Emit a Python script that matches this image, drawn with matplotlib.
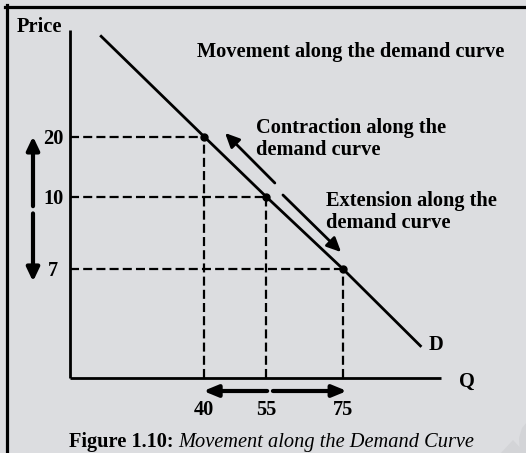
import numpy as np
import matplotlib
matplotlib.use("Agg")
import matplotlib.pyplot as plt
from matplotlib.patches import Polygon

# ---- data ----
quantity = [40, 55, 75]
price = [20, 10, 7]
q_labels = ["40", "55", "75"]
p_labels = ["20", "10", "7"]
demand_q = [9, 40, 55, 75, 95]
demand_p = [29.5, 20, 10, 7, 2]

# schematic (non-linear) axes as drawn in the figure
Q_KNOTS = [0, 40, 55, 75, 100]
Q_POS = [0, 134, 196, 273, 371]
P_KNOTS = [0, 7, 10, 20, 30]
P_POS = [0, 109, 181.5, 241.5, 348]

W, H = 526, 453
BG = "#dcdde0"
plt.rcParams["font.family"] = ["Liberation Serif", "DejaVu Serif"]
plt.rcParams["font.weight"] = "bold"
plt.rcParams["lines.scale_dashes"] = False

fig = plt.figure(figsize=(W / 100, H / 100), dpi=100)
fig.patch.set_facecolor(BG)


def fx(x):
    return x / W


def fy(y):
    return 1 - y / H


# faint watermark shapes in the lower right corner
fig.add_artist(Polygon([[fx(499), fy(455)], [fx(513), fy(440)], [fx(527), fy(455)]],
                       closed=True, facecolor="#d3d4d7", edgecolor="none",
                       transform=fig.transFigure))
fig.add_artist(Polygon([[fx(520), fy(455)], [fx(519), fy(438)], [fx(522), fy(428)],
                        [fx(527), fy(422)], [fx(527), fy(455)]],
                       closed=True, facecolor="#d3d4d7", edgecolor="none",
                       transform=fig.transFigure))

ax = fig.add_axes([fx(70), fy(378), (441 - 70) / W, (378 - 30) / H])
ax.set_facecolor("none")
ax.set_xscale("function", functions=(lambda v: np.interp(v, Q_KNOTS, Q_POS),
                                     lambda v: np.interp(v, Q_POS, Q_KNOTS)))
ax.set_yscale("function", functions=(lambda v: np.interp(v, P_KNOTS, P_POS),
                                     lambda v: np.interp(v, P_POS, P_KNOTS)))
ax.set_xlim(0, 100)
ax.set_ylim(0, 30)
for s in ["top", "right"]:
    ax.spines[s].set_visible(False)
for s in ["left", "bottom"]:
    ax.spines[s].set_linewidth(2.0)
    ax.spines[s].set_capstyle("butt")

fs = 14.7
ax.set_xticks(quantity)
ax.set_xticklabels(q_labels)
ax.set_yticks(price)
ax.set_yticklabels(p_labels)
ax.tick_params(axis="x", length=0, pad=15.5, labelsize=fs)
ax.tick_params(axis="y", length=0, pad=12, labelsize=fs)
for t in ax.get_yticklabels():
    t.set_horizontalalignment("center")
ax.xaxis.set_minor_locator(matplotlib.ticker.NullLocator())
ax.yaxis.set_minor_locator(matplotlib.ticker.NullLocator())

# dashed guides
dash = (0, (6.5, 3.0))
for q, p in zip(quantity, price):
    ax.plot([0, q], [p, p], color="black", lw=1.6, linestyle=dash, clip_on=False)
    ax.plot([q, q], [0, p], color="black", lw=1.6, linestyle=dash, clip_on=False)

# demand curve
ax.plot(demand_q, demand_p, color="black", lw=2.0, solid_capstyle="butt", clip_on=False)
ax.plot(quantity, price, "o", color="black", ms=5, clip_on=False)


def arrow(start, end, lw, hl, hw, trans=None):
    ax.annotate("", xy=end, xytext=start,
                xycoords=trans or "data", textcoords=trans or "data",
                arrowprops=dict(arrowstyle=f"-|>,head_length={hl},head_width={hw}",
                                color="black", lw=lw, shrinkA=0, shrinkB=0),
                annotation_clip=False)


# diagonal arrows along the curve
arrow((57.3, 12.25), (45.1, 20.33), 2.0, 0.85, 0.4)
arrow((59.4, 10.25), (74.5, 7.7), 2.0, 0.85, 0.4)

# price arrows (left of axis)
bt_y = ax.get_yaxis_transform()  # x in axes fraction, y in data
xa = (33 - 70) / (441 - 70)
arrow((xa, 9.6), (xa, 20), 3.0, 0.8, 0.38, trans=bt_y)
arrow((xa, 9.3), (xa, 6.2), 3.0, 0.8, 0.38, trans=bt_y)

# quantity arrows (below axis)
bt_x = ax.get_xaxis_transform()  # x in data, y in axes fraction
ya = -(391 - 378) / (378 - 30)
arrow((55.3, ya), (39.8, ya), 3.0, 0.85, 0.35, trans=bt_x)
arrow((56.8, ya), (76.0, ya), 3.0, 0.85, 0.35, trans=bt_x)

# texts
fig.text(fx(17), fy(27), "Price", fontsize=fs, ha="left", va="center")
fig.text(fx(197), fy(52), "Movement along the demand curve", fontsize=fs, ha="left", va="center")
fig.text(fx(256), fy(139), "Contraction along the\ndemand curve", fontsize=fs, ha="left",
         va="center", linespacing=1.08)
fig.text(fx(326), fy(212), "Extension along the\ndemand curve", fontsize=fs, ha="left",
         va="center", linespacing=1.08)
fig.text(fx(436), fy(345), "D", fontsize=fs, ha="center", va="center")
fig.text(fx(467), fy(382), "Q", fontsize=fs, ha="center", va="center")
fig.text(fx(174), fy(442.5), "Figure 1.10:", fontsize=fs, ha="right", va="center")
fig.text(fx(178), fy(442.5), "Movement along the Demand Curve", fontsize=fs, ha="left",
         va="center", style="italic", weight="normal")

# frame
fig.add_artist(plt.Line2D([fx(6.5), fx(6.5)], [fy(5), fy(460)], color="black", lw=2.3,
                          transform=fig.transFigure))
fig.add_artist(plt.Line2D([fx(5.0), fx(530)], [fy(6.5), fy(6.5)], color="black", lw=2.3,
                          transform=fig.transFigure))

fig.savefig("out.png", dpi=100, facecolor=BG)
